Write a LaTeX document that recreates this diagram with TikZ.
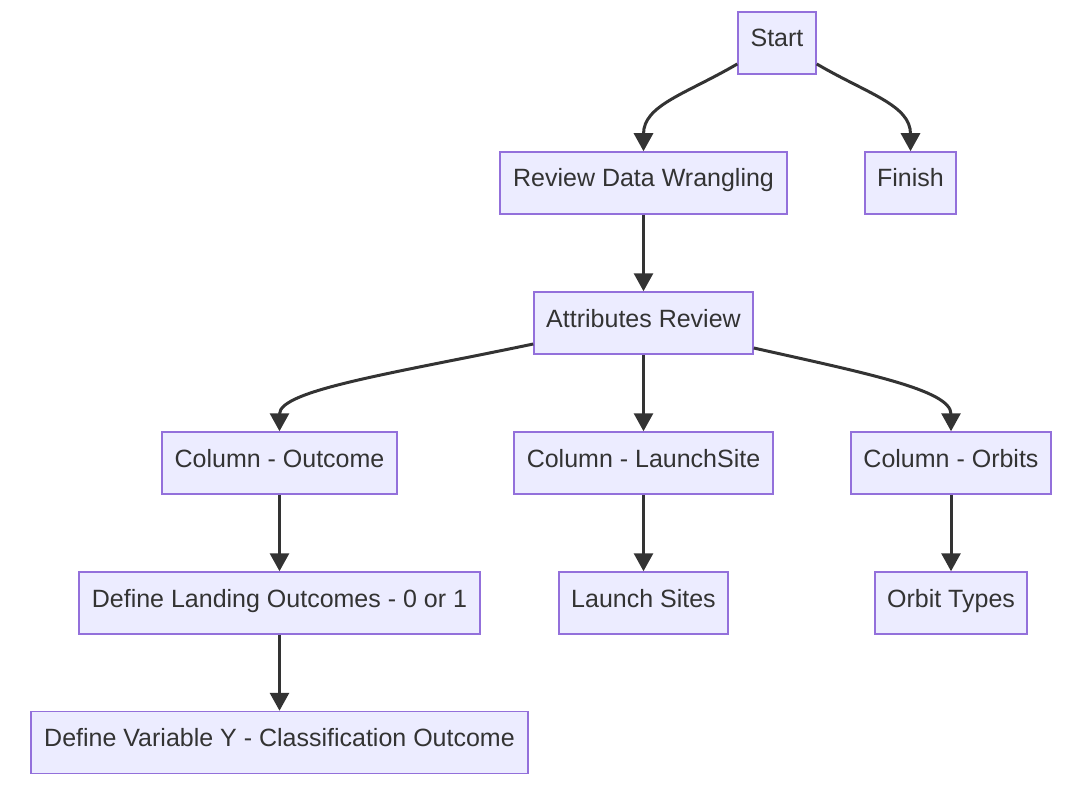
\documentclass[tikz,border=0pt]{standalone}
\usepackage{fontspec}
\setmainfont{Liberation Sans}
\usetikzlibrary{arrows.meta}
\definecolor{boxfill}{HTML}{ECECFF}
\definecolor{boxline}{HTML}{9370DB}
\definecolor{edgecol}{HTML}{333333}
\begin{document}
\begin{tikzpicture}[x=1pt,y=-1pt,
  box/.style={draw=boxline, fill=boxfill, line width=1.5pt, minimum height=62pt,
    inner sep=0pt, text=edgecol, font=\fontsize{25}{30}\selectfont,
    text height=19pt, text depth=11pt},
  edge/.style={draw=edgecol, line width=3pt,
    -{Triangle[length=18pt,width=19pt]}}]
\useasboundingbox (0,0) rectangle (1083,786);
\node[box, minimum width=78pt] (start) at (777,43) {Start};
\node[box, minimum width=287pt] (review) at (643.5,183) {Review Data Wrangling};
\node[box, minimum width=91pt] (finish) at (910.5,183) {Finish};
\node[box, minimum width=219pt] (attr) at (643.5,323) {Attributes Review};
\node[box, minimum width=235pt] (outcome) at (279.5,463) {Column - Outcome};
\node[box, minimum width=259pt] (launch) at (643.5,463) {Column - LaunchSite};
\node[box, minimum width=200pt] (orbits) at (951,463) {Column - Orbits};
\node[box, minimum width=401pt] (landing) at (279.5,603) {Define Landing Outcomes - 0 or 1};
\node[box, minimum width=169pt] (sites) at (643.5,603) {Launch Sites};
\node[box, minimum width=152pt] (otypes) at (951,603) {Orbit Types};
\node[box, minimum width=497pt] (vary) at (279.5,742.5) {Define Variable Y - Classification Outcome};

\draw[edge] (start.west |- 0,64) .. controls (686,94) and (643.5,105) .. (review.north);
\draw[edge] (start.east |- 0,64) .. controls (868,94) and (910.5,105) .. (finish.north);
\draw[edge] (review.south) -- (attr.north);
\draw[edge] (attr.west |- 0,344) .. controls (395,373) and (279.5,390) .. (outcome.north);
\draw[edge] (attr.south) -- (launch.north);
\draw[edge] (attr.east |- 0,348) .. controls (865,373) and (951,390) .. (orbits.north);
\draw[edge] (outcome.south) -- (landing.north);
\draw[edge] (landing.south) -- (vary.north);
\draw[edge] (launch.south) -- (sites.north);
\draw[edge] (orbits.south) -- (otypes.north);
\end{tikzpicture}
\end{document}
